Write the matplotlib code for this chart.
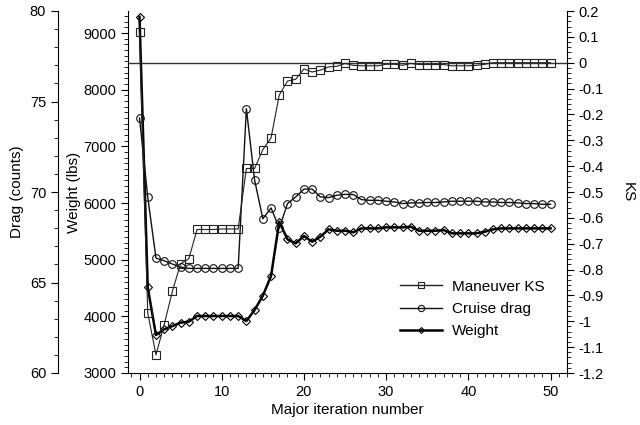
import matplotlib
matplotlib.use("Agg")
import matplotlib.pyplot as plt
from matplotlib.ticker import MultipleLocator, FuncFormatter
from matplotlib.lines import Line2D

plt.rcParams['font.family'] = ['Liberation Sans', 'DejaVu Sans']
plt.rcParams['font.size'] = 10.5

iterations = list(range(51))

maneuver_ks = [0.117, -0.967, -1.13, -1.013, -0.884, -0.777, -0.758, -0.645, -0.645, -0.645,
               -0.643, -0.643, -0.643, -0.409, -0.409, -0.336, -0.291, -0.125, -0.071, -0.064,
               -0.024, -0.036, -0.029, -0.016, -0.014, -0.003, -0.010, -0.012, -0.012, -0.012,
               -0.006, -0.006, -0.010, -0.003, -0.007, -0.007, -0.007, -0.007, -0.012, -0.012,
               -0.012, -0.010, -0.006, 0.0, 0.0, 0.0, 0.0, 0.0, 0.0, 0.0, 0.0]

cruise_drag = [74.09, 69.73, 66.35, 66.2, 66.02, 65.85, 65.78, 65.78, 65.78, 65.78,
               65.78, 65.78, 65.78, 74.6, 70.66, 68.52, 69.12, 68.0, 69.36, 69.73,
               70.16, 70.16, 69.73, 69.69, 69.82, 69.87, 69.86, 69.58, 69.54, 69.54,
               69.49, 69.45, 69.36, 69.40, 69.40, 69.42, 69.42, 69.45, 69.49, 69.49,
               69.49, 69.49, 69.45, 69.45, 69.42, 69.42, 69.40, 69.36, 69.36, 69.32, 69.32]

weight = [9287, 4512, 3670, 3771, 3829, 3888, 3906, 4006, 4006, 4006,
          4006, 4006, 4006, 3918, 4112, 4364, 4712, 5670, 5359, 5289,
          5418, 5317, 5405, 5536, 5511, 5511, 5483, 5553, 5553, 5553,
          5571, 5571, 5571, 5582, 5511, 5511, 5511, 5523, 5465, 5465,
          5465, 5465, 5494, 5536, 5553, 5553, 5553, 5553, 5553, 5553, 5553]

fig = plt.figure(figsize=(6.4, 4.25), dpi=100)
L, R, B, T = 128/640, 567/640, 1-373/425, 1-11/425
host = fig.add_axes([L, B, R-L, T-B])
ax_d = host.twinx()
ax_k = host.twinx()

for a in (host, ax_d, ax_k):
    a.spines['top'].set_visible(False)
    a.patch.set_visible(False)
host.spines['right'].set_visible(False)
ax_d.spines['right'].set_visible(False)
ax_k.spines['left'].set_visible(False)
ax_k.spines['bottom'].set_visible(False)
ax_d.spines['bottom'].set_visible(False)

ax_d.yaxis.set_label_position('left')
ax_d.yaxis.set_ticks_position('left')
ax_d.spines['left'].set_visible(True)
ax_d.spines['left'].set_position(('outward', 70 * 72 / 100))

host.set_xlim(-1.4, 52)
host.set_ylim(3000, 9390)
ax_d.set_ylim(60, 80)
ax_k.set_ylim(-1.2, 0.2)

host.xaxis.set_major_locator(MultipleLocator(10))
host.xaxis.set_minor_locator(MultipleLocator(1))
host.yaxis.set_major_locator(MultipleLocator(1000))
host.yaxis.set_minor_locator(MultipleLocator(100))
ax_d.yaxis.set_major_locator(MultipleLocator(5))
ax_d.yaxis.set_minor_locator(MultipleLocator(1))
ax_k.yaxis.set_major_locator(MultipleLocator(0.1))
ax_k.yaxis.set_minor_locator(MultipleLocator(0.02))

def ksfmt(v, p):
    v = round(v, 2)
    if abs(v) < 1e-9:
        return "0"
    s = ("%.1f" % v).rstrip('0').rstrip('.')
    return s
ax_k.yaxis.set_major_formatter(FuncFormatter(ksfmt))

for a in (host, ax_d, ax_k):
    a.tick_params(which='major', length=5, width=0.8, direction='out', labelsize=10.5)
    a.tick_params(which='minor', length=3, width=0.6, direction='out')
    for s in a.spines.values():
        s.set_linewidth(0.8)

ax_k.axhline(0, color='#333333', lw=1.0, zorder=1)

l_ks, = ax_k.plot(iterations, maneuver_ks, color='#222222', lw=0.8, marker='s',
                  markersize=5.5, markerfacecolor='none', markeredgewidth=0.8, markeredgecolor='#222222')
l_dr, = ax_d.plot(iterations, cruise_drag, color='#111111', lw=1.0, marker='o',
                  markersize=5.5, markerfacecolor='none', markeredgewidth=0.8)
l_w, = host.plot(iterations, weight, color='black', lw=1.8, marker='D',
                 markersize=4, markerfacecolor='none', markeredgewidth=0.8)

host.set_xlabel("Major iteration number", fontsize=11, labelpad=3)
host.set_ylabel("Weight (lbs)", fontsize=11, labelpad=2)
ax_d.set_ylabel("Drag (counts)", fontsize=11, labelpad=4)
ax_k.set_ylabel("KS", fontsize=11, rotation=270, labelpad=22)

h1 = Line2D([], [], color='#222222', lw=1.0, marker='s', markersize=4.5,
            markerfacecolor='none', markeredgewidth=0.8)
h2 = Line2D([], [], color='#111111', lw=1.0, marker='o', markersize=4.5,
            markerfacecolor='none', markeredgewidth=0.8)
h3 = Line2D([], [], color='black', lw=1.8, marker='D', markersize=3,
            markerfacecolor='none', markeredgewidth=0.8)
ax_k.legend([h1, h2, h3], ["Maneuver KS", "Cruise drag", "Weight"],
            loc='upper left', bbox_to_anchor=(0.605, 0.275), frameon=False,
            fontsize=11, handlelength=2.8, handletextpad=0.6, labelspacing=0.55,
            borderaxespad=0)

fig.savefig("out.png", dpi=100)
